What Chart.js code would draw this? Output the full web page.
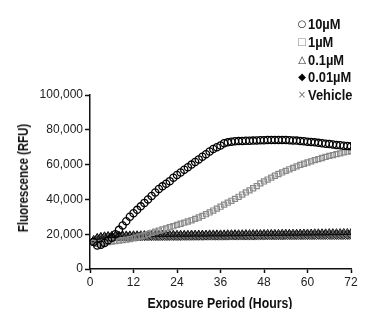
<!DOCTYPE html>
<html>
<head>
<meta charset="utf-8">
<script src="https://cdn.jsdelivr.net/npm/chart.js@4"></script>
<style>
    html, body { margin: 0; padding: 0; background: #fff; }
    #wrap { position: relative; width: 369px; height: 309px; overflow: hidden; }
    .narrow {
        font-family: 'Liberation Sans', Arial, sans-serif;
        font-weight: bold; color: #111; white-space: nowrap;
    }
    #legend { position: absolute; left: 296px; top: 15px; font-size: 15px; }
    #legend div { height: 17.8px; line-height: 17.8px; }
    #legend span.m {
        display: inline-block; width: 12px; text-align: center;
        font-family: 'DejaVu Sans', sans-serif; font-weight: normal; font-size: 10px;
        vertical-align: top;
    }
    #legend span.t { display: inline-block; transform: scaleX(0.86); transform-origin: left center; }
    #xTitle {
        position: absolute; left: 220px; top: 302px; font-size: 15px;
        transform: translate(-50%, -50%) scaleX(0.82);
    }
    #yTitle {
        position: absolute; left: 23px; top: 178px; font-size: 14px;
        transform: translate(-50%, -50%) rotate(-90deg) scaleX(0.82);
    }
</style>
</head>
<body>
<div id="wrap">
    <canvas id="rfuChart" width="369" height="309"></canvas>
    <div id="legend" class="narrow"></div>
    <div id="xTitle" class="narrow">Exposure Period (Hours)</div>
    <div id="yTitle" class="narrow">Fluorescence (RFU)</div>
</div>
<script>
// Exposure time (hours)
const hours = [1, 2, 3, 4, 5, 6, 7, 8, 9, 10, 11, 12,
    13, 14, 15, 16, 17, 18, 19, 20, 21, 22, 23, 24,
    25, 26, 27, 28, 29, 30, 31, 32, 33, 34, 35, 36,
    37, 38, 39, 40, 41, 42, 43, 44, 45, 46, 47, 48,
    49, 50, 51, 52, 53, 54, 55, 56, 57, 58, 59, 60,
    61, 62, 63, 64, 65, 66, 67, 68, 69, 70, 71, 72];

// Fluorescence, thousands of RFU
const tenUM = [15.5, 13.5, 14.0, 15.0, 16.5, 18.0, 20.0, 22.5, 25.0, 27.5, 30.0, 32.0,
    34.0, 36.0, 38.0, 40.0, 42.0, 44.0, 46.0, 47.5, 49.0, 50.5, 52.5, 54.0,
    55.5, 57.0, 58.5, 60.0, 61.5, 63.0, 64.5, 66.0, 67.5, 69.0, 70.0, 71.0,
    72.3, 72.8, 73.2, 73.4, 73.5, 73.6, 73.7, 73.7, 73.8, 73.9, 74.0, 74.0,
    74.1, 74.1, 74.2, 74.2, 74.2, 74.1, 74.0, 73.9, 73.8, 73.6, 73.4, 73.2,
    73.0, 72.8, 72.5, 72.3, 72.0, 71.8, 71.6, 71.3, 71.1, 70.9, 70.7, 70.5];
const oneUM = [15.0, 14.5, 14.8, 15.2, 15.5, 15.8, 16.0, 16.3, 16.6, 16.9, 17.2, 17.6,
    18.2, 18.8, 19.4, 20.1, 20.8, 21.5, 22.1, 22.7, 23.3, 24.0, 24.6, 25.3,
    26.0, 26.6, 27.3, 28.0, 28.8, 29.6, 30.5, 31.5, 32.5, 33.6, 34.7, 35.8,
    37.0, 38.1, 39.2, 40.3, 41.5, 42.8, 44.0, 45.2, 46.4, 47.6, 49.2, 50.3,
    51.4, 52.5, 53.6, 54.6, 55.5, 56.4, 57.3, 58.1, 59.0, 59.8, 60.5, 61.2,
    61.9, 62.6, 63.2, 63.8, 64.4, 65.0, 65.5, 66.0, 66.5, 67.0, 67.4, 67.8];
const pointOneUM = [17.0, 18.2, 18.8, 19.1, 19.3, 19.4, 19.5, 19.5, 19.6, 19.6, 19.6, 19.7,
    19.7, 19.7, 19.8, 19.8, 19.8, 19.8, 19.9, 19.9, 19.9, 19.9, 20.0, 20.0,
    20.0, 20.0, 20.0, 20.1, 20.1, 20.1, 20.1, 20.1, 20.2, 20.2, 20.2, 20.2,
    20.2, 20.3, 20.3, 20.3, 20.3, 20.3, 20.4, 20.4, 20.4, 20.4, 20.4, 20.5,
    20.5, 20.5, 20.5, 20.5, 20.6, 20.6, 20.6, 20.6, 20.6, 20.7, 20.7, 20.7,
    20.7, 20.8, 20.8, 20.8, 20.8, 20.9, 20.9, 20.9, 20.9, 21.0, 21.0, 21.0];
const pointZeroOneUM = [16.0, 17.4, 18.0, 18.3, 18.5, 18.6, 18.6, 18.7, 18.7, 18.7, 18.8, 18.8,
    18.8, 18.8, 18.9, 18.9, 18.9, 18.9, 18.9, 19.0, 19.0, 19.0, 19.0, 19.0,
    19.0, 19.1, 19.1, 19.1, 19.1, 19.1, 19.1, 19.2, 19.2, 19.2, 19.2, 19.2,
    19.2, 19.2, 19.3, 19.3, 19.3, 19.3, 19.3, 19.3, 19.3, 19.4, 19.4, 19.4,
    19.4, 19.4, 19.4, 19.4, 19.4, 19.5, 19.5, 19.5, 19.5, 19.5, 19.5, 19.5,
    19.5, 19.5, 19.6, 19.6, 19.6, 19.6, 19.6, 19.6, 19.6, 19.6, 19.6, 19.7];
const vehicle = [15.0, 16.0, 16.5, 16.8, 17.0, 17.1, 17.2, 17.2, 17.3, 17.3, 17.3, 17.4,
    17.4, 17.4, 17.4, 17.5, 17.5, 17.5, 17.5, 17.5, 17.5, 17.6, 17.6, 17.6,
    17.6, 17.6, 17.6, 17.6, 17.7, 17.7, 17.7, 17.7, 17.7, 17.7, 17.7, 17.7,
    17.7, 17.8, 17.8, 17.8, 17.8, 17.8, 17.8, 17.8, 17.8, 17.8, 17.8, 17.9,
    17.9, 17.9, 17.9, 17.9, 17.9, 17.9, 17.9, 17.9, 17.9, 17.9, 18.0, 18.0,
    18.0, 18.0, 18.0, 18.0, 18.0, 18.0, 18.0, 18.0, 18.0, 18.0, 18.1, 18.1];

const seriesNames = ['10µM', '1µM', '0.1µM', '0.01µM', 'Vehicle'];
const xTicks = [0, 12, 24, 36, 48, 60, 72];
const yTicks = [0, 20000, 40000, 60000, 80000, 100000];

function toPoints(vals) {
    return vals.map(function (v, i) { return { x: hours[i], y: v * 1000 }; });
}

const styles = [
    { pointStyle: 'circle', borderColor: '#000', backgroundColor: 'rgba(0,0,0,0)', radius: 3.6, bw: 1.3, mark: '○', markColor: '#111' },
    { pointStyle: 'rect', borderColor: '#8a8a8a', backgroundColor: 'rgba(0,0,0,0)', radius: 3.6, bw: 1.2, mark: '□', markColor: '#8a8a8a' },
    { pointStyle: 'triangle', borderColor: '#111', backgroundColor: 'rgba(0,0,0,0)', radius: 4, bw: 1, mark: '△', markColor: '#222' },
    { pointStyle: 'rectRot', borderColor: '#222', backgroundColor: '#6a6a6a', radius: 4.5, bw: 1, mark: '◆', markColor: '#000' },
    { pointStyle: 'crossRot', borderColor: '#555', backgroundColor: '#555', radius: 3, bw: 1, mark: '×', markColor: '#777' }
];
const values = [tenUM, oneUM, pointOneUM, pointZeroOneUM, vehicle];

const datasets = values.map(function (vals, i) {
    return {
        label: seriesNames[i],
        data: toPoints(vals),
        showLine: false,
        pointStyle: styles[i].pointStyle,
        pointRadius: styles[i].radius,
        pointBorderWidth: styles[i].bw,
        borderColor: styles[i].borderColor,
        backgroundColor: styles[i].backgroundColor
    };
});

// legend as plain text
const legendEl = document.getElementById('legend');
seriesNames.forEach(function (name, i) {
    const row = document.createElement('div');
    const m = document.createElement('span');
    m.className = 'm';
    m.textContent = styles[i].mark;
    m.style.color = styles[i].markColor;
    const t = document.createElement('span');
    t.className = 't';
    t.textContent = name;
    row.appendChild(m);
    row.appendChild(t);
    legendEl.appendChild(row);
});

const tickFont = { family: "'Liberation Sans', Arial, sans-serif", size: 12 };

new Chart(document.getElementById('rfuChart'), {
    type: 'scatter',
    data: { datasets: datasets },
    options: {
        responsive: false,
        animation: false,
        layout: { padding: { top: 95, right: 18, left: 0, bottom: 0 } },
        plugins: {
            legend: { display: false },
            tooltip: { enabled: false }
        },
        scales: {
            x: {
                type: 'linear',
                min: 0,
                max: 72,
                afterFit: function (s) { s.height = 40; },
                afterBuildTicks: function (s) { s.ticks = xTicks.map(function (v) { return { value: v }; }); },
                border: { color: '#111', width: 1.5 },
                grid: { display: true, drawOnChartArea: false, drawTicks: true, tickLength: 4, tickColor: '#111', tickWidth: 1.5 },
                ticks: { color: '#222', font: tickFont, padding: 2, maxRotation: 0 },
                title: { display: false }
            },
            y: {
                min: 0,
                max: 100000,
                afterFit: function (s) { s.width = 90; },
                afterBuildTicks: function (s) { s.ticks = yTicks.map(function (v) { return { value: v }; }); },
                border: { color: '#111', width: 1.5 },
                grid: { display: true, drawOnChartArea: false, drawTicks: true, tickLength: 5, tickColor: '#111', tickWidth: 1.5 },
                ticks: {
                    color: '#222',
                    font: tickFont,
                    padding: 2,
                    callback: function (v) { return v.toLocaleString('en-US'); }
                },
                title: { display: false }
            }
        }
    }
});
</script>
</body>
</html>
